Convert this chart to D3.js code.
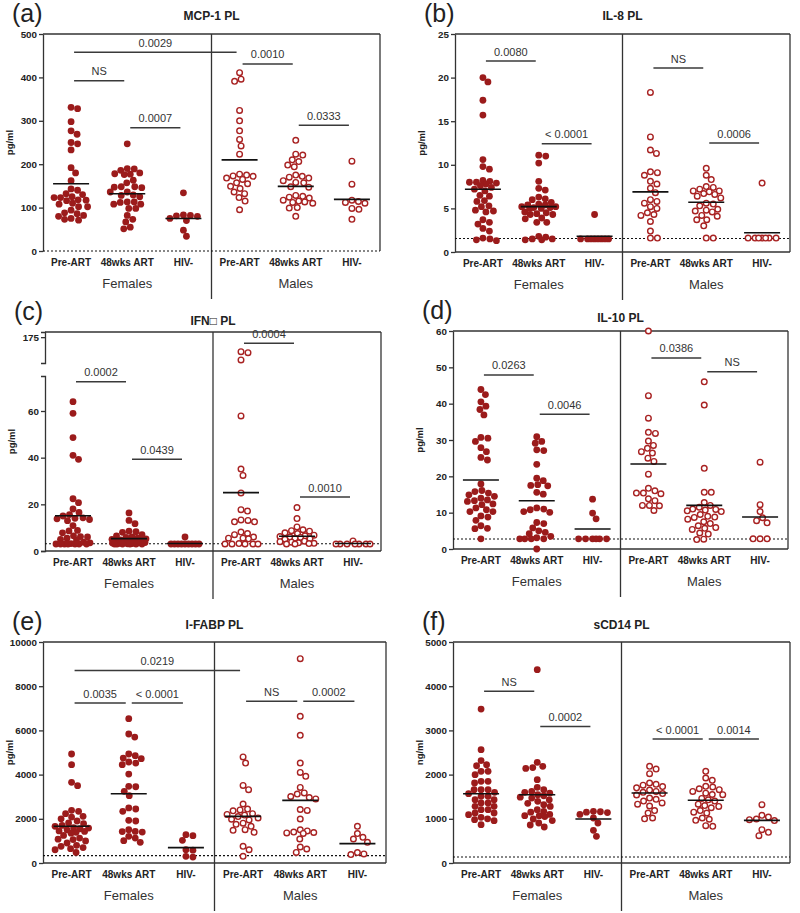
<!DOCTYPE html>
<html>
<head>
<meta charset="utf-8">
<script src="https://cdn.jsdelivr.net/npm/d3@7"></script>
<style>
  body { margin: 0; background: #fff; }
  svg { display: block; }
</style>
</head>
<body>
<script>
var FONT = "'Liberation Sans', Arial, sans-serif";

var categories = ["Pre-ART", "48wks ART", "HIV-", "Pre-ART", "48wks ART", "HIV-"];
var sexes = ["Females", "Males"];

// (a) MCP-1, pg/ml
var mcp1 = [
  [331,328,298,277,269,250,247,233,192,180,162,143,140,132,130,125,123,123,118,117,116,110,108,102,102,94,88,86,82,80,75,73,71],
  [247,190,189,186,180,178,177,176,163,157,148,148,147,146,136,136,129,128,125,113,113,112,108,108,98,98,82,73,67,55,51],
  [134,83,82,81,80,75,70,48,34],
  [411,396,391,324,300,277,257,242,223,177,175,173,172,168,165,157,155,149,144,136,132,123,115,95],
  [255,223,221,210,206,198,194,175,172,170,168,162,158,157,148,147,128,126,124,122,117,115,113,112,110,100,99,80],
  [207,154,117,114,112,110,98,96,73]
];
var mcp1Centre = [155, 132, 75, 210, 149, 119];
var mcp1Ticks = [0, 100, 200, 300, 400, 500];
var mcp1Stats = [[0, 3, 458, "0.0029"], [0, 1, 392, "NS"], [1, 2, 284, "0.0007"], [3, 4, 431, "0.0010"], [4, 5, 290, "0.0333"]];

// (b) IL-8, pg/ml
var il8 = [
  [20.0,19.5,17.4,15.7,10.6,9.8,9.5,8.2,8.1,8.0,8.0,7.9,7.8,7.6,7.4,7.2,7.0,6.5,6.4,5.9,5.8,5.3,5.2,4.8,4.7,4.6,3.7,3.4,3.2,2.7,2.4,1.6,1.5,1.4,1.3],
  [11.1,11.0,10.2,8.1,7.3,7.1,6.3,6.1,6.0,5.7,5.5,5.4,5.4,5.2,5.1,5.0,5.0,5.1,5.2,4.6,4.5,4.4,4.3,4.3,3.9,3.8,3.4,3.4,1.8,1.7,1.5,1.4,1.4,1.5],
  [4.3,1.5,1.5,1.5,1.5,1.5,1.5,1.5,1.5],
  [18.3,13.2,11.7,11.3,9.2,9.1,8.8,8.1,7.8,7.3,6.8,6.0,5.8,5.6,5.2,5.0,4.5,4.3,4.2,3.5,2.4,1.6,1.6],
  [9.6,8.8,8.3,7.5,7.4,7.2,7.0,7.0,6.9,6.7,6.6,6.4,6.2,5.6,5.5,5.3,4.9,4.8,4.7,4.6,4.2,4.1,3.7,3.7,3.0,1.6,1.6],
  [7.9,1.6,1.6,1.6,1.6,1.6,1.6,1.6]
];
var il8Centre = [7.2, 5.2, 1.8, 6.9, 5.7, 2.2];
var il8Ticks = [0, 5, 10, 15, 20, 25];
var il8Stats = [[0, 1, 21.9, "0.0080"], [1, 2, 12.4, "< 0.0001"], [3, 4, 21.1, "NS"], [4, 5, 12.5, "0.0006"]];

// (c) IFN-gamma, pg/ml (broken axis)
var ifng = [
  [64,59,48.6,41,39.3,22.4,20.7,18,16.5,15.6,15,14.2,14,13.8,13.5,13,10.9,8.8,8.6,7.8,6.5,6.2,6,5.5,5,4.8,3.8,3.5,3.2,3,3,3,3,3,3,3],
  [16.3,13.1,11.7,8.5,8.3,8,7,6.5,6,5.8,5.5,5.2,5,4.8,4.5,4.2,4,4,3.8,3.6,3.5,3.4,3.3,3.2,3.1,3,3,3,3,3,3],
  [6,3,3,3,3,3,3,3,3,3],
  [161,160,153,57.9,35.1,32.4,24.9,17.7,17.1,13.3,13.1,12.5,12.5,8.1,7.5,7,6,5.5,5.5,5.2,3.2,3,3,3,3,3],
  [18.6,13.9,10.3,9.1,8.7,8.5,7.8,7.5,6.8,6.5,6.2,6,5.8,5.5,5.2,5,4.2,4,3.8,3.5,3.3,3.2,3,3],
  [4.3,3,3,3,3,3,3,3]
];
var ifngCentre = [15.1, 5.3, 3.2, 25, 6.3, 3.2];
var ifngTicks = [0, 20, 40, 60];
var ifngHighTicks = [175];
var ifngStats = [[0, 1, 72.5, "0.0002"], [1, 2, 39.3, "0.0439"], [3, 4, 169, "0.0004"], [4, 5, 23.1, "0.0010"]];

// (d) IL-10, pg/ml
var il10 = [
  [43.9,42.5,40.5,39.3,38.4,36.9,30.7,30.5,29.6,27.9,26.8,25.2,24.5,17.9,16.1,15.8,15.4,14.9,14.5,14,13.5,13.3,13.1,12.4,12.2,11.3,10.8,10.3,10.3,9.1,8.8,7.9,6.4,5.7,5.6,2.8],
  [30.9,29.6,29.1,27.3,27.1,23.3,19.5,18.8,17.7,17.5,17.4,15.6,15.1,11.3,11.0,10.8,10.3,10.1,7.3,7.0,5.8,5.0,4.6,4.2,3.5,3.1,2.8,2.8,2.8,2.8,0],
  [13.7,9.9,8.3,2.8,2.8,2.8,2.8,2.8,2.8],
  [60,42.2,36.0,32.1,31.8,29.7,28.5,27.7,26.8,26.4,25.0,24.1,20.6,16.7,16.0,15.4,15.4,15.2,13.8,13.3,12.0,12.0,11.9,10.6],
  [46,39.6,22.2,15.6,15.6,12.8,12.0,11.5,11.0,10.9,10.7,10.5,10.3,9.5,9.0,8.8,8.7,8.2,7.5,7.0,6.4,5.9,5.7,5.4,4.4,4.1,2.7,2.6],
  [23.9,12.2,10.3,8.6,7.8,7.2,2.8,2.8,2.8]
];
var il10Centre = [19.0, 13.3, 5.5, 23.4, 12.0, 8.8];
var il10Ticks = [0, 10, 20, 30, 40, 50, 60];
var il10Stats = [[0, 1, 47.9, "0.0263"], [1, 2, 37.1, "0.0046"], [3, 4, 52.6, "0.0386"], [4, 5, 48.8, "NS"]];

// (e) I-FABP, pg/ml
var ifabp = [
  [4931,4449,3650,3500,2383,2337,2230,2110,2080,2000,1900,1810,1780,1700,1660,1600,1580,1550,1500,1450,1430,1390,1350,1250,1130,1080,1060,1000,905,800,754,700,650,600,480],
  [6530,5836,5700,4931,4856,4750,4720,4570,4520,4449,4026,3468,3450,3242,3046,2490,2443,2337,1930,1900,1508,1430,1420,1400,1206,1130,1010,935],
  [1282,1236,1025,600,580,300,270],
  [4800,4520,3510,3320,2670,2440,2400,2360,2230,2200,2170,2100,2040,1980,1950,1800,1750,1660,1510,1480,1390,754,600,300],
  [9244,6635,5776,4520,4100,3920,3420,3170,3120,3010,2960,2900,2420,2380,1990,1500,1450,1400,1380,1360,1340,1085,724,633,480],
  [1660,1330,1160,1085,935,470,410,380]
];
var ifabpCentre = [1660, 3136, 694, 2111, 2835, 875];
var ifabpTicks = [0, 2000, 4000, 6000, 8000, 10000];
var ifabpStats = [[0, 3, 8716, "0.0219"], [0, 1, 7238, "0.0035"], [1, 2, 7238, "< 0.0001"], [3, 4, 7314, "NS"], [4, 5, 7314, "0.0002"]];

// (f) sCD14, ng/ml
var scd14 = [
  [3483,2564,2315,2224,2200,2073,2073,1998,1847,1847,1810,1659,1659,1659,1600,1568,1508,1508,1433,1433,1357,1357,1282,1282,1206,1206,1131,1131,1093,1033,1000,980,958,867],
  [4373,2277,2187,2160,2140,1885,1712,1659,1620,1600,1580,1545,1520,1490,1470,1430,1395,1350,1320,1280,1206,1170,1150,1100,1070,1070,1050,995,960,905,860,814],
  [1170,1160,1150,1140,1100,1018,905,739,603],
  [2187,2126,2020,1810,1780,1760,1730,1700,1650,1620,1600,1570,1540,1470,1440,1400,1360,1330,1290,1185,1130,1018,1000],
  [2073,1923,1870,1734,1720,1680,1660,1620,1580,1550,1545,1460,1430,1400,1330,1300,1280,1250,1185,1150,1130,1018,990,965,845,830],
  [1320,1078,1040,995,980,960,754,694,618]
];
var scd14Centre = [1568, 1545, 995, 1583, 1418, 965];
var scd14Ticks = [0, 1000, 2000, 3000, 4000, 5000];
var scd14Stats = [[0, 1, 3883, "NS"], [1, 2, 3091, "0.0002"], [3, 4, 2805, "< 0.0001"], [4, 5, 2805, "0.0014"]];

var panels = [
  {letter: "(a)", title: "MCP-1 PL", unit: "pg/ml", domain: [0, 500], ticks: mcp1Ticks, values: mcp1, centre: mcp1Centre, stats: mcp1Stats, lod: 0,
   box: {x: 43, y: 34, w: 337, h: 217, titleDy: -14}},
  {letter: "(b)", title: "IL-8 PL", unit: "pg/ml", domain: [0, 25], ticks: il8Ticks, values: il8, centre: il8Centre, stats: il8Stats, lod: 1.55,
   box: {x: 455, y: 34, w: 335, h: 218, titleDy: -14}},
  {letter: "(c)", title: "IFN\u25A1 PL", unit: "pg/ml", domain: [0, 75], ticks: ifngTicks, high: [150, 180], highTicks: ifngHighTicks,
   values: ifng, centre: ifngCentre, stats: ifngStats, lod: 3.1,
   box: {x: 45, y: 332, w: 336, h: 219, lowH: 175, highH: 31, titleDy: -7}},
  {letter: "(d)", title: "IL-10 PL", unit: "pg/ml", domain: [0, 60], ticks: il10Ticks, values: il10, centre: il10Centre, stats: il10Stats, lod: 2.75,
   box: {x: 453, y: 331, w: 335, h: 218, titleDy: -9}},
  {letter: "(e)", title: "I-FABP PL", unit: "pg/ml", domain: [0, 10000], ticks: ifabpTicks, values: ifabp, centre: ifabpCentre, stats: ifabpStats, lod: 330,
   box: {x: 43, y: 642, w: 343, h: 221, titleDy: -13}},
  {letter: "(f)", title: "sCD14 PL", unit: "ng/ml", domain: [0, 5000], ticks: scd14Ticks, values: scd14, centre: scd14Centre, stats: scd14Stats, lod: 136,
   box: {x: 453, y: 642, w: 337, h: 221, titleDy: -13}}
];

var svg = d3.select("body").append("svg")
    .attr("width", 800)
    .attr("height", 913);

panels.forEach(drawPanel);

// simple beeswarm: highest values first, nudged sideways until free,
// kept inside +/- cap px (crowded rows overlap like the original)
function swarm(vals, y, r, cap) {
  var pts = vals.map(function(v) { return {v: v, y: y(v)}; })
      .sort(function(a, b) { return a.y - b.y; });
  var placed = [], need = 2 * r - 0.2;
  pts.forEach(function(p) {
    var best = 0, bestGap = -1;
    for (var k = 0; k <= cap * 4; k++) {
      var off = (k % 2 ? 1 : -1) * Math.ceil(k / 2) * 0.5;
      var gap = Infinity;
      placed.forEach(function(q) {
        var dd = Math.hypot(q.dx - off, q.y - p.y);
        if (dd < gap) gap = dd;
      });
      if (gap >= need) { best = off; break; }
      if (gap > bestGap + 0.01) { bestGap = gap; best = off; }
    }
    p.dx = best;
    placed.push(p);
  });
  return placed;
}

function drawPanel(p) {
  var b = p.box,
      bottom = b.y + b.h,
      g = svg.append("g");

  var x = d3.scaleBand().domain(d3.range(6)).range([b.x, b.x + b.w]);
  var cx = function(i) { return x(i) + x.bandwidth() / 2; };

  var y, axes;
  if (p.high) {
    var lo = d3.scaleLinear().domain(p.domain).range([bottom, bottom - b.lowH]);
    var hi = d3.scaleLinear().domain(p.high).range([b.y + b.highH, b.y]);
    y = function(v) { return v > p.domain[1] ? hi(v) : lo(v); };
    axes = [[lo, p.ticks], [hi, p.highTicks]];
  } else {
    y = d3.scaleLinear().domain(p.domain).range([bottom, b.y]);
    axes = [[y, p.ticks]];
  }

  // frame
  var frame = g.append("g").attr("stroke", "#333").attr("stroke-width", 1.3);
  frame.append("line").attr("x1", b.x).attr("x2", b.x + b.w).attr("y1", b.y).attr("y2", b.y);
  frame.append("line").attr("x1", b.x + b.w).attr("x2", b.x + b.w).attr("y1", b.y).attr("y2", bottom);
  if (p.lod > p.domain[0])
    frame.append("line").attr("x1", b.x).attr("x2", b.x + b.w).attr("y1", bottom).attr("y2", bottom);
  frame.append("line")
      .attr("x1", b.x + b.w / 2).attr("x2", b.x + b.w / 2)
      .attr("y1", b.y).attr("y2", bottom + 48);

  axes.forEach(function(a) {
    var ax = g.append("g")
        .attr("transform", "translate(" + b.x + ",0)")
        .call(d3.axisLeft(a[0]).tickValues(a[1]).tickSize(4)
          .tickSizeOuter(p.high ? 4 : 0).tickPadding(2)
          .tickFormat(d3.format("d")));
    ax.selectAll("path, line").attr("stroke", "#333").attr("stroke-width", 1.3);
    ax.selectAll("text")
        .attr("font-family", FONT)
        .attr("font-weight", "bold")
        .attr("font-size", 9.8)
        .attr("fill", "#222");
  });

  // detection limit
  g.append("line")
      .attr("x1", b.x).attr("x2", b.x + b.w)
      .attr("y1", y(p.lod)).attr("y2", y(p.lod))
      .attr("stroke", "#111")
      .attr("stroke-width", 1.2)
      .attr("stroke-dasharray", "2,2");

  // dots
  p.values.forEach(function(vals, i) {
    var open = i >= 3;
    var pts = swarm(vals, y, 3.4, 17);
    g.append("g").selectAll("circle")
      .data(pts)
      .enter().append("circle")
        .attr("cx", function(d) { return cx(i) + d.dx; })
        .attr("cy", function(d) { return d.y; })
        .attr("r", open ? 2.8 : 3.4)
        .attr("fill", open ? "#fff" : "#9b1b1b")
        .attr("stroke", open ? "#a82222" : "none")
        .attr("stroke-width", 1.4);
  });

  // centre lines
  g.append("g").selectAll("line")
    .data(p.centre)
    .enter().append("line")
      .attr("x1", function(d, i) { return cx(i) - 18; })
      .attr("x2", function(d, i) { return cx(i) + 18; })
      .attr("y1", function(d) { return y(d); })
      .attr("y2", function(d) { return y(d); })
      .attr("stroke", "#111")
      .attr("stroke-width", 1.6);

  // comparisons
  var st = g.append("g").selectAll("g")
    .data(p.stats)
    .enter().append("g");
  st.append("line")
      .attr("x1", function(d) { return cx(d[0]) + 3; })
      .attr("x2", function(d) { return cx(d[1]) - 3; })
      .attr("y1", function(d) { return y(d[2]); })
      .attr("y2", function(d) { return y(d[2]); })
      .attr("stroke", "#3a3a3a")
      .attr("stroke-width", 1.5);
  st.append("text")
      .attr("x", function(d) { return (cx(d[0]) + cx(d[1])) / 2; })
      .attr("y", function(d) { return y(d[2]) - 5.5; })
      .attr("text-anchor", "middle")
      .attr("font-family", FONT)
      .attr("font-size", 11)
      .attr("fill", "#333")
      .text(function(d) { return d[3]; });

  // category and sex labels
  g.append("g").selectAll("text")
    .data(categories)
    .enter().append("text")
      .attr("x", function(d, i) { return cx(i); })
      .attr("y", bottom + 15)
      .attr("text-anchor", "middle")
      .attr("font-family", FONT)
      .attr("font-weight", "bold")
      .attr("font-size", 10)
      .attr("fill", "#222")
      .text(function(d) { return d; });

  g.append("g").selectAll("text")
    .data(sexes)
    .enter().append("text")
      .attr("x", function(d, i) { return b.x + b.w / 4 + i * b.w / 2; })
      .attr("y", bottom + 37)
      .attr("text-anchor", "middle")
      .attr("font-family", FONT)
      .attr("font-size", 13)
      .attr("fill", "#333")
      .text(function(d) { return d; });

  g.append("text")
      .attr("transform", "translate(" + (b.x - 30) + "," + (b.y + b.h / 2) + ") rotate(-90)")
      .attr("text-anchor", "middle")
      .attr("font-family", FONT)
      .attr("font-weight", "bold")
      .attr("font-size", 9.5)
      .attr("fill", "#222")
      .text(p.unit);

  g.append("text")
      .attr("x", b.x + b.w / 2)
      .attr("y", b.y + b.titleDy)
      .attr("text-anchor", "middle")
      .attr("font-family", FONT)
      .attr("font-weight", "bold")
      .attr("font-size", 12)
      .attr("fill", "#222")
      .text(p.title);

  g.append("text")
      .attr("x", b.x - 31)
      .attr("y", b.y - 12)
      .attr("font-family", FONT)
      .attr("font-size", 25)
      .attr("fill", "#222")
      .text(p.letter);
}
</script>
</body>
</html>
